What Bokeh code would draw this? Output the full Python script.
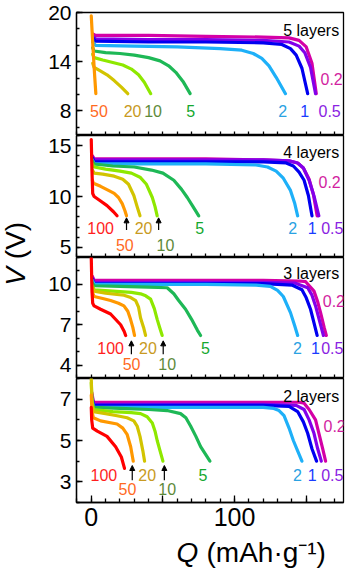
from bokeh.plotting import figure
from bokeh.layouts import column, row
from bokeh.models import FixedTicker, Label, Arrow, NormalHead, Range1d
from bokeh.embed import file_html
from bokeh.resources import INLINE

FONT = "Liberation Sans"

# ---------------- data ----------------
Q_RANGE = (-10.3, 176)
Q_TICKS = [0, 50, 100, 150]
Q_MINOR = [-10, 0, 10, 20, 30, 40, 50, 60, 70, 80, 90, 100, 110, 120, 130, 140, 150, 160, 170]
Q_TICK_LABELS = {50: "", 150: ""}

# 5 layers
L5_RATES = ["0.2", "0.5", "1", "2", "5", "10", "20", "50"]
L5_Q = [
    [1, 3, 40, 80, 120, 138, 145, 150, 154, 157],
    [1, 3, 40, 80, 120, 138, 145, 149, 153, 156.5],
    [1, 3, 40, 80, 120, 133, 139, 143, 147, 151],
    [1, 3, 30, 60, 90, 105, 113, 119, 124, 129, 135.5],
    [1, 2, 10, 20, 30, 40, 48, 54, 59, 64, 69],
    [1, 2, 8, 15, 22, 28, 33, 37, 41.5],
    [1, 2, 6, 11, 16, 21, 25.5],
    [0, 0.8, 1.6, 2.4, 3.2],
]
L5_V = [
    [17.4, 17.2, 17.2, 17.1, 17.0, 16.9, 16.6, 15.8, 13.8, 10.1],
    [17.1, 16.8, 16.7, 16.7, 16.6, 16.4, 15.9, 15.1, 13.3, 10.1],
    [16.9, 16.5, 16.4, 16.4, 16.3, 16.1, 15.6, 14.8, 13.2, 10.1],
    [16.4, 16.0, 15.9, 15.8, 15.6, 15.4, 15.0, 14.4, 13.5, 12.1, 10.1],
    [15.7, 15.3, 15.1, 15.0, 14.8, 14.5, 14.1, 13.5, 12.7, 11.6, 10.1],
    [14.9, 14.5, 14.2, 13.9, 13.6, 13.1, 12.4, 11.5, 10.1],
    [13.8, 13.3, 12.9, 12.4, 11.7, 10.9, 10.1],
    [19.6, 17.0, 14.5, 12.2, 10.1],
]

# 4 layers
L4_RATES = ["0.2", "0.5", "1", "2", "5", "10", "20", "50", "100"]
L4_Q = [
    [0.8, 2, 40, 80, 120, 138, 144, 148, 152, 155, 157.6],
    [0.8, 2, 40, 80, 120, 138, 144, 148, 152, 155.5, 158.8],
    [0.8, 2, 40, 80, 120, 136, 141, 145, 148.5, 151.5, 154],
    [0.8, 2, 40, 80, 115, 123, 129, 134, 139, 142, 144],
    [0.8, 2, 15, 30, 42, 50, 57.6, 63, 67, 71, 75],
    [0.8, 2, 10, 20, 28, 34, 38.5, 42.6, 44.5, 46],
    [0.8, 2, 8, 16, 22, 26, 29.7, 32, 34],
    [0.8, 1.5, 6.5, 12, 16, 19, 21.6, 23.5, 24.6],
    [0, 0.5, 1, 2, 6, 11, 15.5, 18],
]
L4_V = [
    [14.0, 13.7, 13.7, 13.7, 13.6, 13.5, 13.3, 12.8, 11.7, 10.2, 8.1],
    [13.9, 13.6, 13.6, 13.6, 13.6, 13.5, 13.3, 12.8, 11.6, 10.0, 8.1],
    [13.8, 13.4, 13.4, 13.4, 13.4, 13.3, 13.0, 12.4, 11.6, 10.1, 8.1],
    [13.6, 13.2, 13.2, 13.2, 13.1, 12.9, 12.5, 11.8, 10.6, 9.3, 8.1],
    [13.5, 13.2, 13.0, 12.9, 12.6, 12.3, 11.6, 10.7, 9.9, 9.0, 8.1],
    [13.2, 12.9, 12.7, 12.5, 12.3, 11.9, 11.2, 9.9, 9.0, 8.1],
    [12.6, 12.3, 12.2, 12.0, 11.7, 11.2, 10.1, 9.0, 8.1],
    [11.6, 11.3, 11.0, 10.6, 10.3, 9.9, 9.3, 8.6, 8.1],
    [15.6, 12.5, 10.3, 10.0, 9.6, 9.1, 8.5, 8.1],
]

# 3 layers
L3_RATES = ["0.2", "0.5", "1", "2", "5", "10", "20", "50", "100"]
L3_Q = [
    [0.8, 2, 40, 80, 120, 145, 149.6, 155.4, 158, 160, 162.5, 164],
    [0.8, 2, 40, 80, 120, 142, 151, 154, 156.5, 159.5, 162],
    [0.8, 2, 40, 80, 120, 140, 147, 150, 153, 155.5, 157.6],
    [0.8, 2, 40, 80, 115, 125, 130, 134, 139, 142, 144],
    [0.8, 2, 20, 40, 53, 57.6, 61, 65.8, 70, 74, 76.3],
    [0.8, 2, 15, 28, 34.4, 38, 41.4, 44, 46, 48, 49.5],
    [0.8, 2, 10, 18, 22.8, 27, 31, 33, 34.4, 36.5, 37.9],
    [0.8, 2, 8, 13.5, 19, 22.8, 25.5, 27.4, 29, 30.2],
    [0, 0.5, 1, 2, 6.5, 13.5, 20.5, 23, 24],
]
L3_V = [
    [10.6, 10.3, 10.3, 10.3, 10.3, 10.25, 10.2, 9.5, 8.7, 7.9, 6.8, 6.2],
    [10.5, 10.15, 10.15, 10.15, 10.15, 10.1, 9.75, 9.2, 8.4, 7.2, 6.2],
    [10.4, 10.05, 10.05, 10.05, 10.05, 9.95, 9.6, 9.0, 8.15, 7.1, 6.2],
    [10.3, 10.0, 10.0, 10.0, 9.95, 9.85, 9.55, 9.1, 7.9, 6.9, 6.2],
    [10.1, 9.9, 9.85, 9.8, 9.75, 9.3, 8.8, 8.15, 7.4, 6.6, 6.2],
    [9.9, 9.6, 9.5, 9.4, 9.3, 9.15, 8.9, 8.2, 7.4, 6.7, 6.2],
    [9.8, 9.5, 9.35, 9.25, 9.2, 9.05, 8.8, 8.3, 7.5, 6.8, 6.2],
    [9.4, 9.1, 8.95, 8.8, 8.6, 8.4, 8.0, 7.4, 6.8, 6.2],
    [12.0, 9.5, 8.6, 8.4, 8.15, 7.8, 7.0, 6.5, 6.2],
]

# 2 layers
L2_RATES = ["0.2", "0.5", "1", "2", "5", "10", "20", "50", "100"]
L2_Q = [
    [0.5, 1.5, 40, 80, 120, 145, 148.5, 152, 156.5, 159, 161.5, 163.5],
    [0.5, 1.5, 40, 80, 120, 143, 148.5, 152, 155.4, 158, 160.5],
    [0.5, 1.5, 40, 80, 120, 138, 144, 148, 151, 154, 157.2],
    [0.5, 1.5, 40, 80, 120, 127.4, 131, 134.5, 138, 141, 144, 147],
    [0.5, 1.5, 20, 40, 53, 62.3, 66, 69.3, 73, 76.3, 80, 82.8],
    [0, 0.5, 1.5, 15, 28, 34.4, 39, 42.6, 44.5, 46, 48, 50],
    [0, 0.5, 1.5, 10, 18, 25, 29.7, 32, 34, 36, 37.2],
    [0, 0.5, 1.5, 6.5, 18, 22, 25, 27.5, 29.3],
    [0, 0.3, 1, 4.2, 11, 17, 21, 23.2],
]
L2_V = [
    [7.3, 6.85, 6.85, 6.85, 6.85, 6.85, 6.8, 6.5, 6.0, 5.3, 4.6, 4.0],
    [7.2, 6.75, 6.75, 6.75, 6.75, 6.7, 6.5, 6.0, 5.35, 4.6, 4.0],
    [7.1, 6.7, 6.7, 6.7, 6.7, 6.65, 6.4, 5.9, 5.35, 4.6, 4.0],
    [7.0, 6.6, 6.6, 6.6, 6.6, 6.55, 6.45, 6.2, 5.6, 5.0, 4.5, 4.0],
    [7.0, 6.6, 6.55, 6.5, 6.45, 6.3, 6.1, 5.7, 5.2, 4.7, 4.3, 4.0],
    [7.8, 6.9, 6.5, 6.4, 6.35, 6.3, 6.15, 5.85, 5.45, 5.0, 4.5, 4.0],
    [8.0, 6.8, 6.4, 6.3, 6.2, 6.1, 5.95, 5.7, 5.2, 4.5, 4.0],
    [7.2, 6.4, 6.1, 5.95, 5.8, 5.6, 5.3, 4.7, 4.0],
    [6.6, 6.0, 5.6, 5.45, 5.2, 4.7, 4.2, 3.65],
]

PANEL_TITLES = ["5 layers", "4 layers", "3 layers", "2 layers"]
Y_RANGES = [(5, 20), (4, 16), (3, 12), (2, 8)]
Y_TICKS = [[8, 14, 20], [5, 10, 15], [4, 7, 10], [3, 5, 7]]
Y_MINOR = [[6, 8, 10, 12, 14, 16, 18, 20],
           [4, 5, 6, 7, 8, 9, 10, 11, 12, 13, 14, 15, 16],
           [3, 4, 5, 6, 7, 8, 9, 10, 11, 12],
           [2, 3, 4, 5, 6, 7, 8]]

# ---------------- styles / annotation positions ----------------
LINE_COLORS = {"0.2": "#d400a6", "0.5": "#8200ea", "1": "#0000f0", "2": "#1eb0f8",
               "5": "#1eb856", "10": "#8ee800", "20": "#d2c400", "50": "#ff9800",
               "100": "#ff0000"}
TEXT_COLORS = {"0.2": "#d21ea0", "0.5": "#8a22e2", "1": "#1a3cff", "2": "#2aa2e2",
               "5": "#14a82e", "10": "#5e8a3a", "20": "#c89a22", "50": "#ff6a1e",
               "100": "#ff1e1e"}

LABEL_POS = [
    {"50": (5.4, 8.0), "20": (28.8, 8.0), "10": (43.1, 8.0), "5": (69.3, 8.0),
     "2": (133.6, 8.0), "1": (148.9, 8.0), "0.5": (166.3, 8.0), "0.2": (167.7, 11.9)},
    {"100": (6.5, 6.86), "50": (23.4, 5.2), "20": (36.5, 6.86), "10": (51.8, 5.2),
     "5": (75.6, 6.86), "2": (140.5, 6.86), "1": (154.2, 6.86), "0.5": (168.2, 6.86),
     "0.2": (166.3, 11.4)},
    {"100": (13.5, 5.3), "50": (28.1, 4.07), "20": (39.6, 5.3), "10": (53.0, 4.07),
     "5": (79.6, 5.3), "2": (143.8, 5.3), "1": (156.5, 5.3), "0.5": (168.2, 5.3),
     "0.2": (169.3, 8.74)},
    {"100": (8.8, 3.32), "50": (25.3, 2.67), "20": (39.0, 3.32), "10": (53.0, 2.67),
     "5": (78.0, 3.32), "2": (143.8, 3.32), "1": (154.2, 3.32), "0.5": (168.2, 3.32),
     "0.2": (169.8, 5.7)},
]
ARROWS = [
    [],
    [(24.6, 6.7, 7.9), (47.0, 6.7, 7.9)],
    [(28.0, 4.8, 5.8), (50.2, 4.8, 5.8)],
    [(28.6, 3.08, 3.79), (51.0, 3.08, 3.79)],
]
TITLE_V = [17.8, 14.35, 10.78, 7.15]

LEFT_W = 36
HEIGHTS = [135, 122, 121, 158]
TOPS = [12, 0, 0, 0]
BOTTOMS = [0, 0, 0, 34]
XLABEL_H = 32
TOTAL_H = sum(HEIGHTS) + XLABEL_H


def make_panel(i, rates, qs, vs):
    last = i == 3
    p = figure(width=312, height=HEIGHTS[i], x_range=Range1d(*Q_RANGE),
               y_range=Range1d(*Y_RANGES[i]), output_backend="svg",
               toolbar_location=None, min_border_left=40, min_border_right=5,
               min_border_top=TOPS[i], min_border_bottom=BOTTOMS[i])
    p.grid.visible = False
    p.outline_line_color = "black"
    p.outline_line_width = 1.3
    p.background_fill_color = "white"
    p.border_fill_color = None

    ya = p.yaxis[0]
    ya.ticker = FixedTicker(ticks=Y_TICKS[i], minor_ticks=Y_MINOR[i])
    ya.major_tick_in = 6
    ya.major_tick_out = 0
    ya.minor_tick_in = 3
    ya.minor_tick_out = 0
    ya.major_tick_line_width = 1.3
    ya.minor_tick_line_width = 1.3
    ya.axis_line_width = 1.3
    ya.major_label_text_font = FONT
    ya.major_label_text_font_size = "21px"
    ya.major_label_text_color = "black"
    ya.major_label_standoff = 5

    xa = p.xaxis[0]
    xa.major_tick_out = 0
    xa.minor_tick_out = 0
    xa.major_tick_line_width = 1.3
    xa.minor_tick_line_width = 1.3
    xa.axis_line_width = 1.3
    if last:
        xa.ticker = FixedTicker(ticks=Q_TICKS, minor_ticks=Q_MINOR)
        xa.major_tick_in = 7
        xa.minor_tick_in = 4
        xa.major_label_overrides = Q_TICK_LABELS
        xa.major_label_text_font = FONT
        xa.major_label_text_font_size = "25px"
        xa.major_label_text_color = "black"
        xa.major_label_standoff = 5
    else:
        xa.ticker = FixedTicker(ticks=[], minor_ticks=Q_MINOR)
        xa.minor_tick_in = 4
        xa.major_label_standoff = 0

    for r, q, v in zip(rates, qs, vs):
        p.line(q, v, line_color=LINE_COLORS[r], line_width=3.2,
               line_join="round", line_cap="round")

    for r, (lq, lv) in LABEL_POS[i].items():
        p.add_layout(Label(x=lq, y=lv, text=r, text_font=FONT, text_font_size="16px",
                           text_color=TEXT_COLORS[r], text_align="center",
                           text_baseline="middle"))
    for (aq, v0, v1) in ARROWS[i]:
        p.add_layout(Arrow(end=NormalHead(size=5, fill_color="black", line_color="black"),
                           x_start=aq, y_start=v0, x_end=aq, y_end=v1,
                           line_color="black", line_width=1.2))
    p.add_layout(Label(x=173, y=TITLE_V[i], text=PANEL_TITLES[i], text_font=FONT,
                       text_font_size="16px", text_color="black", text_align="right",
                       text_baseline="alphabetic"))
    return p


p1 = make_panel(0, L5_RATES, L5_Q, L5_V)
p2 = make_panel(1, L4_RATES, L4_Q, L4_V)
p3 = make_panel(2, L3_RATES, L3_Q, L3_V)
p4 = make_panel(3, L2_RATES, L2_Q, L2_V)

# left strip holding the y-axis title "V (V)"
left = figure(width=LEFT_W, height=TOTAL_H, x_axis_type=None, y_axis_type=None,
              output_backend="svg", toolbar_location=None, min_border=0,
              x_range=Range1d(0, LEFT_W), y_range=Range1d(0, TOTAL_H))
left.grid.visible = False
left.outline_line_color = None
left.add_layout(Label(x=15, y=TOTAL_H - 276, x_units="screen", y_units="screen", text="V",
                      angle=90, angle_units="deg", text_font=FONT, text_font_size="28px",
                      text_font_style="italic", text_align="center",
                      text_baseline="middle", text_color="black"))
left.add_layout(Label(x=15, y=TOTAL_H - 240, x_units="screen", y_units="screen", text="(V)",
                      angle=90, angle_units="deg", text_font=FONT, text_font_size="28px",
                      text_align="center", text_baseline="middle", text_color="black"))

# bottom strip holding the x-axis title "Q (mAh·g⁻¹)"
bottom = figure(width=312, height=XLABEL_H, x_axis_type=None, y_axis_type=None,
                output_backend="svg", toolbar_location=None, min_border=0,
                x_range=Range1d(0, 312), y_range=Range1d(0, XLABEL_H))
bottom.grid.visible = False
bottom.outline_line_color = None
bottom.add_layout(Label(x=111, y=16, x_units="screen", y_units="screen", text="Q",
                        text_font=FONT, text_font_size="28px", text_font_style="italic",
                        text_align="center", text_baseline="middle", text_color="black"))
bottom.add_layout(Label(x=130, y=16, x_units="screen", y_units="screen", text="(mAh·g⁻¹)",
                        text_font=FONT, text_font_size="28px",
                        text_align="left", text_baseline="middle", text_color="black"))

layout = row(left, column(p1, p2, p3, p4, bottom, spacing=0), spacing=0)
open("out.html", "w").write(file_html(layout, INLINE))
